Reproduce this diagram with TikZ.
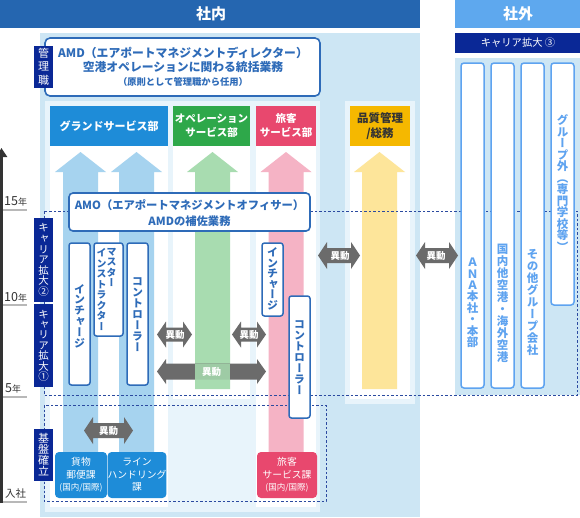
\documentclass[tikz,border=0pt]{standalone}
\usepackage{fontspec}
\setmainfont{Noto Sans CJK JP}
\newfontfamily\vjp[RawFeature=+vert]{Noto Sans CJK JP}
\usetikzlibrary{arrows.meta}
\definecolor{hdrblue}{HTML}{2566B0}
\definecolor{hdrlight}{HTML}{5EA8EE}
\definecolor{navy}{HTML}{0A2896}
\definecolor{panelA}{HTML}{CDE6F4}
\definecolor{panelB}{HTML}{E8F4FB}
\definecolor{gsblue}{HTML}{1E8CD8}
\definecolor{opgreen}{HTML}{2EA84A}
\definecolor{pspink}{HTML}{E8486E}
\definecolor{qlyellow}{HTML}{F5B800}
\definecolor{arrblue}{HTML}{A6D3EF}
\definecolor{arrgreen}{HTML}{A8DCB0}
\definecolor{arrpink}{HTML}{F5B3C5}
\definecolor{arryellow}{HTML}{FDE59A}
\definecolor{boxblue}{HTML}{2E6BB8}
\definecolor{extblue}{HTML}{5EA3F0}
\definecolor{mvgrey}{HTML}{6B6B6B}
\definecolor{dashnavy}{HTML}{2B4AA0}
\definecolor{axisgrey}{HTML}{333333}
\definecolor{ulgrey}{HTML}{B8B8B8}
\definecolor{txtdark}{HTML}{333333}
\newcommand\fs[1]{\fontsize{#1}{#1}\selectfont}
% vertical (tategaki) stacking
\let\vstend\relax
\newcommand\vst[2][1em]{\vbox{\offinterlineskip\def\vstp{#1}\vsti#2\vstend}}
\def\vsti#1{\ifx#1\vstend\else\vbox to \vstp{\vss\hbox to 1em{\hss\smash{#1}\vphantom{国}\hss}\vss}\expandafter\vsti\fi}
\newcommand\uparr[4]{\fill[#1] (#2,#3) -- (#2+25.5,#3+20) -- (#2+17.5,#3+20) -- (#2+17.5,#4) -- (#2-17.5,#4) -- (#2-17.5,#3+20) -- (#2-25.5,#3+20) -- cycle;}
\newcommand\mvshape[5]{\fill[mvgrey] (#1,#3) -- (#1+9,#3-#4) -- (#1+9,#3-#5) -- (#2-9,#3-#5) -- (#2-9,#3-#4) -- (#2,#3) -- (#2-9,#3+#4) -- (#2-9,#3+#5) -- (#1+9,#3+#5) -- (#1+9,#3+#4) -- cycle;}
\begin{document}
\begin{tikzpicture}[x=1pt,y=-1pt,
  hdrtxt/.style={text=white,font=\bfseries\fs{15},inner sep=0},
  dept/.style={inner sep=0,align=center,text=white,font=\bfseries\fontsize{10.5}{14}\selectfont},
  mvlbl/.style={text=white,font=\bfseries\fs{9.5},inner sep=0},
  vbx/.style={draw=boxblue,line width=1.5pt,fill=white,rounded corners=2.5pt,inner sep=0,minimum width=21pt},
  vtxt/.style={text=boxblue,font=\vjp\bfseries\fs{11},inner sep=0},
  extbx/.style={draw=extblue,line width=1.5pt,fill=white,rounded corners=3pt,inner sep=0,minimum width=23pt},
  exttxt/.style={text=extblue,font=\vjp\bfseries\fs{11.5},inner sep=0},
  navylbl/.style={fill=navy,text=white,font=\vjp\fs{10.5},inner sep=0,minimum width=19pt},
  bigbox/.style={draw=boxblue,line width=1.6pt,fill=white,rounded corners=5pt,inner sep=0},
  bluetxt/.style={text=boxblue,font=\bfseries\fs{11.8},inner sep=0},
  botbox/.style={rounded corners=4pt,inner sep=0,text=white,align=center,font=\fontsize{9.8}{12.5}\selectfont,minimum height=46pt},
  dashbox/.style={draw=dashnavy,line width=0.8pt,dash pattern=on 2.5pt off 2pt},
  yeartxt/.style={text=txtdark,font=\fs{12.5},inner sep=0,anchor=base west},
  yearline/.style={draw=ulgrey,line width=2pt},
]
\useasboundingbox (0,0) rectangle (580,517);
% header bars
\fill[hdrblue] (0,0) rectangle (420,28);
\node[hdrtxt] (shanai) at (211,14) {社内};
\fill[hdrlight] (455,0) rectangle (580,28);
\node[hdrtxt] (shagai) at (518,14) {社外};
\fill[navy] (455,33) rectangle (580,53);
\node[text=white,font=\fs{10.3},inner sep=0] (car3) at (518,43) {キャリア拡大 ③};
% panels
\fill[panelA] (40,33) rectangle (420,517);
\fill[panelA] (455,58) rectangle (580,395);
\fill[panelB] (45,101) rectangle (320,512);
\fill[panelB] (345,101) rectangle (415,404);
\fill[white] (50,106) rectangle (168,507);
\fill[white] (173,106) rectangle (250,399);
\fill[white] (256,106) rectangle (316,507);
\fill[white] (350,106) rectangle (410,399);
% department headers
\node[dept,fill=gsblue,minimum width=118pt,minimum height=40pt,font=\bfseries\fs{11}] (gs) at (109,126) {グランドサービス部};
\node[dept,fill=opgreen,minimum width=77pt,minimum height=40pt] (op) at (211.5,126) {オペレーション\\サービス部};
\node[dept,fill=pspink,minimum width=60pt,minimum height=40pt] (ps) at (286,126) {旅客\\サービス部};
\node[dept,fill=qlyellow,minimum width=60pt,minimum height=40pt,text=txtdark,font=\bfseries\fontsize{11.5}{15}\selectfont] (ql) at (380,126) {品質管理\\/総務};
% career arrows
\uparr{arrblue}{80.5}{152}{460}
\uparr{arrblue}{136.5}{152}{460}
\uparr{arrgreen}{212.5}{152}{389}
\uparr{arrpink}{286}{152}{460}
\uparr{arryellow}{379.5}{152}{389}
% transfer arrows
\mvshape{157}{192}{334.5}{13}{7}
\mvshape{232}{266}{334.5}{13}{7}
\mvshape{157}{266}{371.5}{12.5}{8}
\fill[arrgreen,opacity=0.85] (195,363.5) rectangle (230,379.5);
\mvshape{318}{360}{255.5}{13.5}{7.5}
\mvshape{416}{458}{255.5}{13.5}{7.5}
\mvshape{84}{133}{430.5}{13.5}{7.5}
\node[mvlbl] (mv1) at (175,334.5) {異動};
\node[mvlbl] (mv2) at (249,334.5) {異動};
\node[mvlbl] (mv3) at (211.5,371.5) {異動};
\node[mvlbl] (mv4) at (340,255.5) {異動};
\node[mvlbl] (mv5) at (436,255.5) {異動};
\node[mvlbl] (mv6) at (108.5,430.5) {異動};
% dashed regions
\draw[dashbox] (44,211) rectangle (577,395);
\draw[dashbox] (44,405) rectangle (326,501);
% external boxes
\node[extbx,minimum height=325pt] (e1) at (472.5,225.5) {};
\node[extbx,minimum height=325pt] (e2) at (502.5,225.5) {};
\node[extbx,minimum height=325pt] (e3) at (532.5,225.5) {};
\node[extbx,minimum height=242pt] (e4) at (562.5,184) {};
\node[exttxt] (e1t) at (472.5,302.5) {\vst[11.4pt]{ＡＮＡ本社・本部}};
\node[exttxt] (e2t) at (502.5,303) {\vst[12pt]{国内他空港・海外空港}};
\node[exttxt] (e3t) at (532.5,302.5) {\vst[12pt]{その他グループ会社}};
\node[exttxt] (e4t) at (562.5,184) {\vst[11.5pt]{グループ外（専門学校等）}};
% AMD / AMO
\node[bigbox,minimum width=275pt,minimum height=58pt] (amd) at (182.5,67) {};
\node[bluetxt] (amd1) at (183,53) {AMD（エアポートマネジメントディレクター）};
\node[bluetxt] (amd2) at (183,67.5) {空港オペレーションに関わる統括業務};
\node[text=boxblue,font=\bfseries\fs{9.3},inner sep=0] (amd3) at (183,82) {（原則として管理職から任用）};
\node[bigbox,rounded corners=4pt,minimum width=241pt,minimum height=38pt] (amo) at (189.5,212) {};
\node[bluetxt,font=\bfseries\fs{11.3}] (amo1) at (189.5,205) {AMO（エアポートマネジメントオフィサー）};
\node[bluetxt,font=\bfseries\fs{11.3}] (amo2) at (189.5,221) {AMDの補佐業務};
% vertical role boxes
\node[vbx,minimum height=142pt] (ic1) at (79.5,314) {};
\node[vtxt] (ic1t) at (79.5,316) {\vst[10.8pt]{インチャージ}};
\node[vbx,minimum width=29pt,minimum height=93pt] (mi) at (108.5,289.5) {};
\node[vtxt,font=\vjp\bfseries\fs{10},anchor=north] (mit1) at (111.5,246.5) {\vst[10.3pt]{マスター}};
\node[vtxt,font=\vjp\bfseries\fs{10},anchor=north] (mit2) at (101.5,247.5) {\vst[10.5pt]{インストラクター}};
\node[vbx,minimum height=142pt] (ct1) at (137.5,314) {};
\node[vtxt] (ct1t) at (137.5,314) {\vst[11pt]{コントローラー}};
\node[vbx,minimum height=73pt] (ic2) at (272.5,279.5) {};
\node[vtxt] (ic2t) at (272.5,279) {\vst[10.5pt]{インチャージ}};
\node[vbx,minimum height=122pt] (ct2) at (299.5,357) {};
\node[vtxt] (ct2t) at (299.5,357) {\vst[11pt]{コントローラー}};
% bottom section boxes
\node[botbox,fill=gsblue,minimum width=52pt] (b1) at (81,475) {貨物\\郵便課\\{\fs{8.5}(国内/国際)}};
\node[botbox,fill=gsblue,minimum width=52pt] (b2) at (137,475) {ライン\\ハンドリング\\課};
\node[botbox,fill=pspink,minimum width=60pt] (b3) at (287,475) {旅客\\サービス課\\{\fs{8.5}(国内/国際)}};
% navy side labels
\node[navylbl,minimum height=42pt,font=\vjp\fs{11}] (kanri) at (43.5,67) {\vst[13.5pt]{管理職}};
\node[navylbl,minimum height=84pt] (car2) at (43.5,260) {\vst[10.6pt]{キャリア拡大②}};
\node[navylbl,minimum height=83pt] (car1) at (43.5,345.5) {\vst[10.4pt]{キャリア拡大①}};
\node[navylbl,minimum height=52pt,font=\vjp\fs{11}] (kiban) at (43.5,455) {\vst[11pt]{基盤確立}};
% year axis
\coordinate (ax0) at (1.5,503);
\coordinate (ax1) at (1.5,148);
\draw[axisgrey,line width=3pt,-{Triangle[width=11pt,length=9pt]}] (ax0) -- (ax1);
\draw[yearline] (3,209.5) -- (27,209.5);
\node[yeartxt] (y15) at (4,205.5) {15{\fs{9}年}};
\draw[yearline] (3,304.5) -- (27,304.5);
\node[yeartxt] (y10) at (4,301.5) {10{\fs{9}年}};
\draw[yearline] (3,396.5) -- (27,396.5);
\node[yeartxt] (y5) at (5,392.5) {5{\fs{9}年}};
\draw[yearline] (3,501.5) -- (27,501.5);
\node[yeartxt,font=\fs{10.5}] (y0) at (5,497.5) {入社};
\end{tikzpicture}
\end{document}
